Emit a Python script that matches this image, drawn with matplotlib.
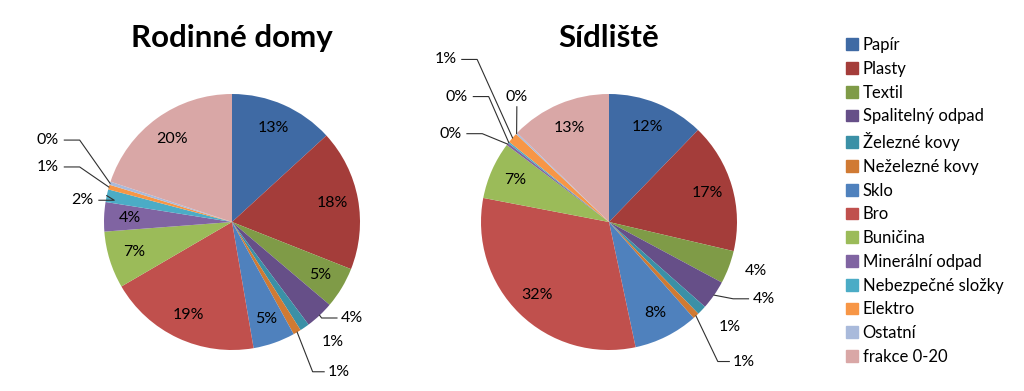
import numpy as np
import matplotlib
matplotlib.use("Agg")
import matplotlib.pyplot as plt

plt.rcParams['font.family'] = ['Lato', 'DejaVu Sans']

# categories and shares
categories = ["Papír", "Plasty", "Textil", "Spalitelný odpad", "Železné kovy",
              "Neželezné kovy", "Sklo", "Bro", "Buničina", "Minerální odpad",
              "Nebezpečné složky", "Elektro", "Ostatní", "frakce 0-20"]
rodinne = [13.2, 17.8, 5.2, 3.6, 1.2, 1.0, 5.3, 19.3, 7.2, 3.7, 1.6, 0.6, 0.4, 19.9]
sidliste = [12.3, 16.5, 4.2, 3.7, 1.2, 0.8, 8.2, 31.5, 7.3, 0.3, 0.2, 1.3, 0.2, 12.8]
labels_rd = ["13%", "18%", "5%", "4%", "1%", "1%", "5%", "19%", "7%", "4%", "2%", "1%", "0%", "20%"]
labels_sd = ["12%", "17%", "4%", "4%", "1%", "1%", "8%", "32%", "7%", "0%", "0%", "1%", "0%", "13%"]
colors = ["#3f6aa4", "#a43d3a", "#7f9b47", "#664f88", "#3b90a6", "#d07a33",
          "#4f81bd", "#c0504d", "#9bbb59", "#8064a2", "#4bacc6", "#f79646",
          "#a9badb", "#d9a7a6"]

# outside labels: index -> (text x, text y, leader kind) in units of radius
out_rd = {3: (0.85, -0.75, "right"), 4: (0.70, -0.94, None), 5: (0.75, -1.17, "down"),
          10: (-1.08, 0.17, "left"), 11: (-1.35, 0.43, "left"), 12: (-1.35, 0.64, "left")}
out_sd = {2: (1.06, -0.38, None), 3: (1.12, -0.60, "right"), 4: (0.86, -0.82, None),
          5: (0.97, -1.09, "down"), 9: (-1.15, 0.69, "left"), 10: (-1.10, 0.98, "left"),
          11: (-1.19, 1.27, "left"), 12: (-0.72, 0.98, "up")}

fig = plt.figure(figsize=(10.24, 3.91), dpi=100)
R = 128.0  # pie radius in pixels
FS = 11.5
LINE = "#303030"


def draw_pie(left_px, cx_px, title, values, labels, outside):
    ax = fig.add_axes([left_px / 1024, 0, 420 / 1024, 1])
    cy_px = 169.0
    wedges, _ = ax.pie(values, colors=colors, startangle=90, counterclock=False,
                       radius=1.0, center=(0, 0), frame=True,
                       wedgeprops=dict(linewidth=0))
    ax.set_xlim(-(cx_px - left_px) / R, (left_px + 420 - cx_px) / R)
    ax.set_ylim(-cy_px / R, (391 - cy_px) / R)
    ax.set_aspect("auto")
    ax.axis("off")
    for i, w in enumerate(wedges):
        mid = np.deg2rad((w.theta1 + w.theta2) / 2)
        if i in outside:
            tx, ty, kind = outside[i]
            ex, ey = np.cos(mid), np.sin(mid)
            if kind == "right":
                ax.plot([ex, tx - 0.15, tx - 0.03], [ey, ty, ty], color=LINE, lw=0.8)
                ax.text(tx, ty, labels[i], ha="left", va="center", fontsize=FS)
            elif kind == "down":
                ax.plot([ex, tx - 0.12, tx - 0.03], [ey, ty, ty], color=LINE, lw=0.8)
                ax.text(tx, ty, labels[i], ha="left", va="center", fontsize=FS)
            elif kind == "left":
                ax.plot([ex, tx + 0.16, tx + 0.04], [ey, ty, ty], color=LINE, lw=0.8)
                ax.text(tx, ty, labels[i], ha="right", va="center", fontsize=FS)
            elif kind == "up":
                ax.plot([ex, tx], [ey, ty - 0.08], color=LINE, lw=0.8)
                ax.text(tx, ty, labels[i], ha="center", va="center", fontsize=FS)
            else:
                ax.text(tx, ty, labels[i], ha="left", va="center", fontsize=FS)
        else:
            r = 0.8
            ax.text(r * np.cos(mid), r * np.sin(mid), labels[i], ha="center",
                    va="center", fontsize=FS)
    ax.text(0, 1.44, title, ha="center", va="center", fontsize=22.5, fontweight="bold")


draw_pie(0, 232, "Rodinné domy", rodinne, labels_rd, out_rd)
draw_pie(420, 609, "Sídliště", sidliste, labels_sd, out_sd)

handles = [plt.Rectangle((0, 0), 1, 1, color=c) for c in colors]
fig.legend(handles, categories, loc="upper left", bbox_to_anchor=(846 / 1024, 1 - 37 / 391),
           frameon=False, fontsize=12, handlelength=0.7, handleheight=0.7,
           handletextpad=0.3, labelspacing=0.465, borderaxespad=0, borderpad=0)

fig.savefig("out.png", dpi=100)
